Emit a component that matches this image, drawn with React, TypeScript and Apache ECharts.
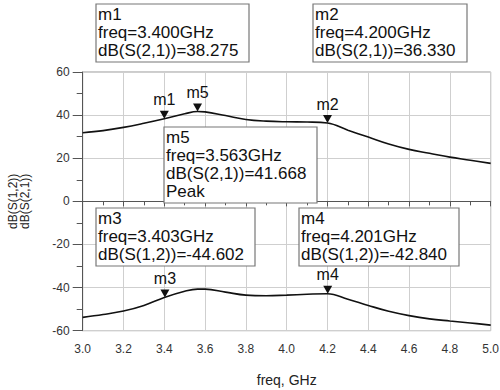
import React, { useEffect, useRef } from "react";
import * as echarts from "echarts";

// ---- data ----
const freq = [3.0, 3.1, 3.2, 3.3, 3.4, 3.5, 3.563, 3.6, 3.7, 3.8, 3.9, 4.0, 4.1, 4.2, 4.3, 4.4, 4.5, 4.6, 4.7, 4.8, 4.9, 5.0];
const s21 = [31.8, 32.8, 34.3, 36.2, 38.3, 40.6, 41.67, 41.5, 39.8, 38.0, 37.2, 36.9, 36.8, 36.33, 33.0, 29.8, 26.6, 24.1, 22.3, 20.5, 19.1, 17.6];
const s12 = [-53.8, -52.5, -50.9, -48.3, -44.6, -41.7, -40.7, -40.7, -42.1, -43.5, -43.8, -43.5, -43.1, -42.84, -45.4, -48.3, -51.0, -53.0, -54.5, -55.5, -56.4, -57.4];

const markerNames = ["m1", "m2", "m5", "m3", "m4"];
const markerFreqs = [3.4, 4.2, 3.563, 3.403, 4.201];
const markerValues = [38.275, 36.33, 41.668, -44.602, -42.84];
const markerTraces = ["dB(S(2,1))", "dB(S(2,1))", "dB(S(2,1))", "dB(S(1,2))", "dB(S(1,2))"];
const markerExtra = ["", "", "Peak", "", ""];

const xTickMin = 3.0;
const xTickMax = 5.0;
const yTickMin = -60;
const yTickMax = 60;

// box placement (layout, not data)
const boxLayout = [
  { x: 96, y: 4, w: 153, h: 58 },
  { x: 313, y: 4, w: 154, h: 58 },
  { x: 164, y: 127, w: 153, h: 76 },
  { x: 96, y: 208, w: 159, h: 58 },
  { x: 299, y: 208, w: 160, h: 58 },
];

const FONT = "'Liberation Sans', Arial, sans-serif";

export default function App() {
  const ref = useRef<HTMLDivElement>(null);

  useEffect(() => {
    if (!ref.current) return;
    const chart = echarts.init(ref.current, undefined, { renderer: "svg" });

    const toPairs = (ys: number[]) => freq.map((f, i) => [f, ys[i]]);

    const markPointsFor = (trace: string) =>
      markerNames
        .map((n, i) => ({ n, i }))
        .filter(({ i }) => markerTraces[i] === trace)
        .map(({ n, i }) => ({ name: n, coord: [markerFreqs[i], markerValues[i]] }));

    const markStyle = {
      symbol: "triangle",
      symbolSize: [9, 8],
      symbolRotate: 180,
      symbolOffset: [0, -4],
      itemStyle: { color: "#111" },
      label: {
        show: true,
        position: "top",
        distance: 3,
        formatter: "{b}",
        color: "#111",
        fontSize: 16,
        fontFamily: FONT,
      },
    };

    const graphics: any[] = [];
    boxLayout.forEach((b, i) => {
      const lines = [
        markerNames[i],
        `freq=${markerFreqs[i].toFixed(3)}GHz`,
        `${markerTraces[i]}=${markerValues[i].toFixed(3)}`,
      ];
      if (markerExtra[i]) lines.push(markerExtra[i]);
      graphics.push({
        type: "rect",
        z: 100,
        shape: { x: b.x, y: b.y, width: b.w, height: b.h },
        style: { fill: "#fff", stroke: "#777", lineWidth: 1.2 },
      });
      lines.forEach((ln, k) => {
        graphics.push({
          type: "text",
          z: 101,
          x: b.x + 2,
          y: b.y + 2 + k * 18,
          style: {
            text: ln,
            fontSize: 17,
            fontFamily: FONT,
            fill: "#111",
            align: "left",
            verticalAlign: "top",
          },
        });
      });
    });

    chart.setOption({
      animation: false,
      backgroundColor: "#fff",
      grid: {
        left: 82.7,
        right: 9.3,
        top: 72,
        bottom: 59.3,
        show: true,
        borderColor: "#999",
        borderWidth: 1,
        outerBoundsMode: "none",
        containLabel: false,
      },
      xAxis: {
        type: "value",
        min: xTickMin,
        max: xTickMax,
        interval: 0.2,
        name: "freq, GHz",
        nameLocation: "middle",
        nameGap: 42,
        nameTextStyle: { fontSize: 14, color: "#222", fontFamily: FONT },
        axisLine: { show: true, lineStyle: { color: "#555", width: 1 } },
        axisTick: { show: true, length: 5, lineStyle: { color: "#555" } },
        minorTick: { show: true, splitNumber: 2, length: 4, lineStyle: { color: "#555" } },
        axisLabel: {
          fontSize: 12,
          color: "#333",
          margin: 12,
          fontFamily: FONT,
          formatter: (v: number) => v.toFixed(1),
        },
        splitLine: { show: true, lineStyle: { color: "#cfcfcf", width: 1 } },
      },
      yAxis: {
        type: "value",
        min: yTickMin,
        max: yTickMax,
        interval: 20,
        name: "dB(S(1,2))\ndB(S(2,1))",
        nameLocation: "middle",
        nameRotate: 90,
        nameGap: 52,
        nameTextStyle: { fontSize: 12, lineHeight: 12, color: "#222", fontFamily: FONT },
        axisLine: { show: true, lineStyle: { color: "#555", width: 1 } },
        axisTick: { show: true, length: 10, lineStyle: { color: "#555" } },
        minorTick: { show: true, splitNumber: 2, length: 6, lineStyle: { color: "#555" } },
        axisLabel: { fontSize: 12, color: "#333", margin: 13, fontFamily: FONT },
        splitLine: { show: true, lineStyle: { color: "#cfcfcf", width: 1 } },
      },
      series: [
        {
          name: "dB(S(2,1))",
          type: "line",
          data: toPairs(s21),
          smooth: 0.4,
          showSymbol: false,
          lineStyle: { color: "#111", width: 1.6 },
          markPoint: { ...markStyle, data: markPointsFor("dB(S(2,1))") },
        },
        {
          name: "dB(S(1,2))",
          type: "line",
          data: toPairs(s12),
          smooth: 0.4,
          showSymbol: false,
          lineStyle: { color: "#111", width: 1.6 },
          markPoint: { ...markStyle, data: markPointsFor("dB(S(1,2))") },
        },
      ],
      graphic: graphics,
    });

    return () => chart.dispose();
  }, []);

  return (
    <div
      ref={ref}
      style={{ position: "fixed", left: 0, top: 0, width: 500, height: 390, background: "#fff" }}
    />
  );
}
